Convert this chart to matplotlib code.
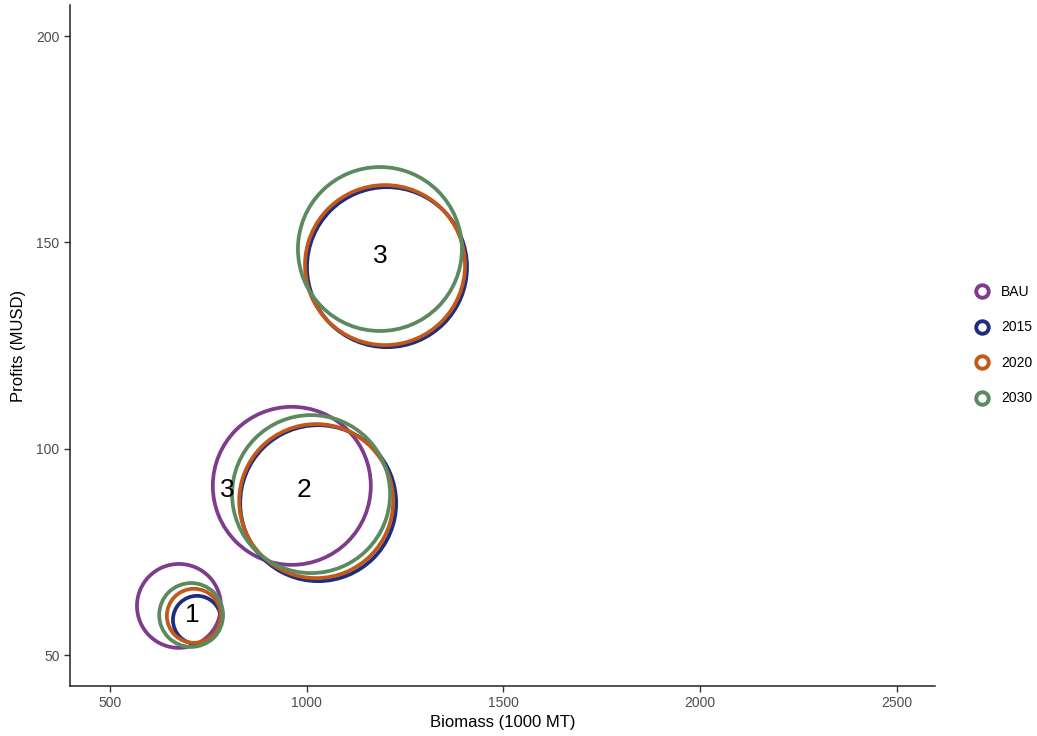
import matplotlib.pyplot as plt
import numpy as np

plt.rcParams['font.family'] = ['Liberation Sans', 'DejaVu Sans']

# bubble data: scenario, biomass, profits, bubble value
scenarios = ['BAU', '2015', '2020', '2030']
colors = {'BAU': '#7D3C8C', '2015': '#1E2D7D', '2020': '#C2581A', '2030': '#5B8A5F'}

bau_x = [675, 962]
bau_y = [61.9, 91.0]
bau_v = [17.6, 62.4]

y2015_x = [721, 1029, 1204]
y2015_y = [58.5, 86.8, 144.0]
y2015_v = [5.8, 60.8, 64.0]

y2020_x = [713, 1024, 1199]
y2020_y = [59.5, 87.3, 144.5]
y2020_v = [7.3, 59.3, 64.0]

y2030_x = [706, 1011, 1186]
y2030_y = [59.7, 89.0, 148.4]
y2030_v = [10.2, 62.4, 67.2]

label_text = ['1', '3', '2', '3']
label_x = [708, 797, 993, 1186]
label_y = [59.7, 90.0, 90.0, 146.7]

series = {
    'BAU': (bau_x, bau_y, bau_v),
    '2015': (y2015_x, y2015_y, y2015_v),
    '2020': (y2020_x, y2020_y, y2020_v),
    '2030': (y2030_x, y2030_y, y2030_v),
}

fig = plt.figure(figsize=(10.37, 7.36), dpi=100)
ax = fig.add_axes([0.0675, 0.068, 0.834, 0.925])

for name in scenarios:
    x, y, v = series[name]
    ax.scatter(x, y, s=np.array(v) * 207.4, facecolors='none',
               edgecolors=colors[name], linewidths=2.7, zorder=2)

for t, x, y in zip(label_text, label_x, label_y):
    ax.text(x, y, t, fontsize=19, ha='center', va='center', color='black', zorder=3)

ax.set_xlim(398, 2597)
ax.set_ylim(42.5, 207.5)
ax.set_xticks([500, 1000, 1500, 2000, 2500])
ax.set_yticks([50, 100, 150, 200])
ax.set_xlabel('Biomass (1000 MT)', fontsize=12, labelpad=3)
ax.set_ylabel('Profits (MUSD)', fontsize=12, labelpad=7)
ax.tick_params(labelsize=10, labelcolor='#4D4D4D', color='#333333', length=4, width=1)
for s in ['top', 'right']:
    ax.spines[s].set_visible(False)
for s in ['left', 'bottom']:
    ax.spines[s].set_linewidth(1.1)
    ax.spines[s].set_color('#222222')

handles = [plt.Line2D([], [], marker='o', linestyle='none', markersize=9,
                      markerfacecolor='white', markeredgecolor=colors[n],
                      markeredgewidth=2.8) for n in scenarios]
fig.legend(handles, scenarios, loc='center left', bbox_to_anchor=(0.928, 0.531),
           frameon=False, fontsize=10, labelspacing=1.55, handletextpad=0.9,
           handlelength=1.0)

plt.savefig('out.png', dpi=100)
